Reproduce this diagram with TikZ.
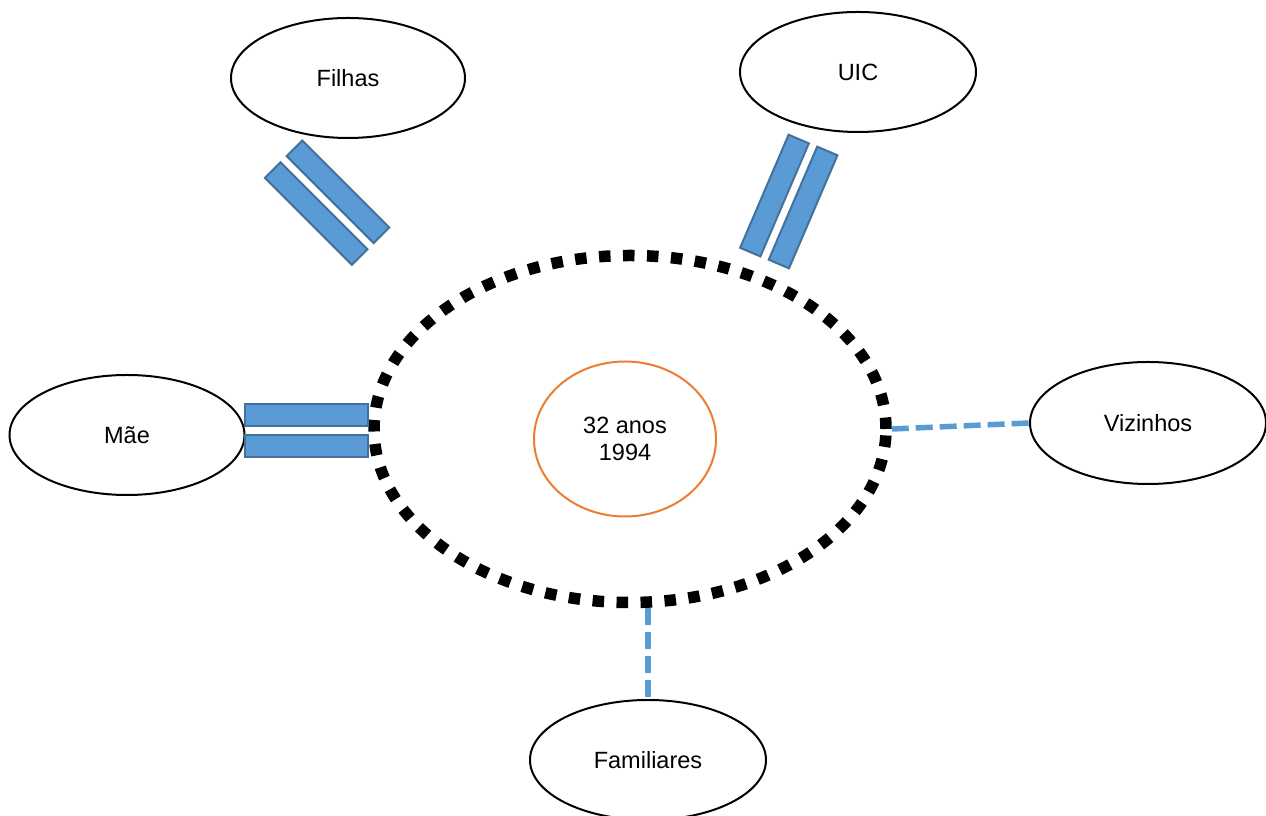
\documentclass[tikz,border=0pt]{standalone}
\usepackage{fontspec}
\setmainfont{Liberation Sans}
\usetikzlibrary{shapes.geometric}
\definecolor{barfill}{HTML}{5B9BD5}
\definecolor{bardraw}{HTML}{41719C}
\definecolor{linkblue}{HTML}{5B9BD5}
\definecolor{orangeline}{HTML}{ED7D31}
\tikzset{
  actor/.style={ellipse, draw=black, line width=2pt, inner sep=0pt, font=\fontsize{23.5}{25.5}\selectfont},
  barbox/.style={rectangle, fill=barfill, draw=bardraw, line width=2pt, minimum width=123pt, minimum height=22pt, inner sep=0pt},
  weaklink/.style={draw=linkblue, line width=5.5pt, dash pattern=on 17pt off 7pt},
}
\begin{document}
\begin{tikzpicture}[x=1pt,y=1pt]
\useasboundingbox (0,0) rectangle (1266,816);
\fill[white] (0,0) rectangle (1266,816);
% central
\node[ellipse, draw=black, line width=11.5pt, dash pattern=on 11.5pt off 12.5pt, minimum width=512pt, minimum height=347pt, inner sep=0pt] (big) at (630,387) {};
\node[ellipse, draw=orangeline, line width=2pt, minimum width=182pt, minimum height=155pt, inner sep=0pt, align=center, font=\fontsize{23.5}{27}\selectfont] (core) at (625,377) {32 anos\\1994};
% actors
\node[actor, minimum width=234pt, minimum height=120pt] (filhas) at (348,738) {Filhas};
\node[actor, minimum width=236pt, minimum height=120pt] (uic) at (858,744) {UIC};
\node[actor, minimum width=235pt, minimum height=120pt] (mae) at (127,381) {Mãe};
\node[actor, minimum width=236pt, minimum height=122pt] (viz) at (1148,393) {Vizinhos};
\node[actor, minimum width=236pt, minimum height=120pt] (fam) at (648,56) {Familiares};
% strong links (double bars)
\node[barbox, rotate=-45] (f1) at (338,624.2) {};
\node[barbox, rotate=-45] (f2) at (316.2,602.5) {};
\node[barbox, rotate=66.8] (u1) at (774.5,620.4) {};
\node[barbox, rotate=66.8] (u2) at (803.1,608.5) {};
\node[barbox] (m1) at (306.5,401) {};
\node[barbox] (m2) at (306.5,369.5) {};
% weak links (dashed)
\draw[weaklink] (big.east) -- (viz.west);
\draw[weaklink] (fam.north |- big.south) -- (fam.north);
\end{tikzpicture}
\end{document}
